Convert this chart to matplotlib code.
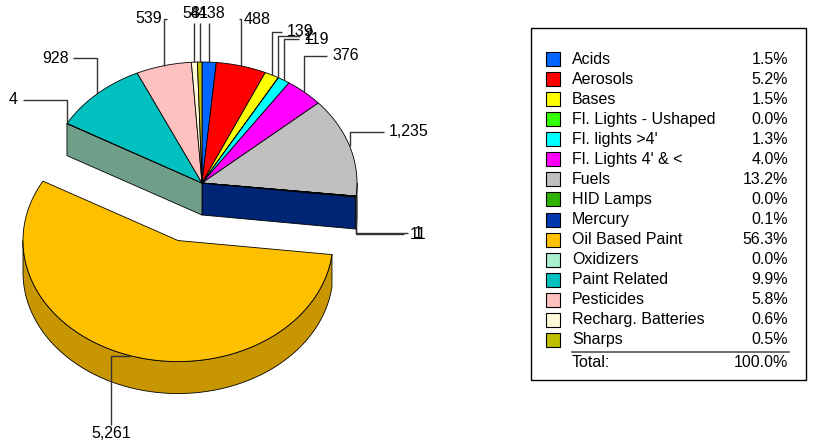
import numpy as np
import matplotlib.pyplot as plt
import matplotlib.colors as mcolors
from matplotlib.patches import Polygon, Rectangle

plt.rcParams['font.family'] = ['Liberation Sans', 'DejaVu Sans']

######################## DATA ##################################################
categories = ['Acids', 'Aerosols', 'Bases', 'Fl. Lights - Ushaped', "Fl. lights >4'",
              "Fl. Lights 4' & <", 'Fuels', 'HID Lamps', 'Mercury', 'Oil Based Paint',
              'Oxidizers', 'Paint Related', 'Pesticides', 'Recharg. Batteries', 'Sharps']
values = [138, 488, 139, 2, 119, 376, 1235, 1, 11, 5261, 4, 928, 539, 58, 44]
colors = ['#0066FF', '#FF0000', '#FFFF00', '#33FF00', '#00FFFF', '#FF00FF', '#C0C0C0',
          '#2DB300', '#0038B0', '#FFC000', '#A8F0D0', '#00C0C0', '#FFC0C0', '#FFFBD8',
          '#BFBF00']
exploded = 'Oil Based Paint'
################################################################################

fs = 11.5
cx, cy = 202, 183      # pie centre (px)
rx, ry = 155, 121      # top ellipse radii
depth = 32             # pie thickness
explode = 0.5
lab_k = 1.4            # label distance (relative to radius)
side_shade = 0.78
cut_shade = 0.66

fig = plt.figure(figsize=(8.15, 4.43), dpi=100)
ax = fig.add_axes([0, 0, 1, 1])
ax.set_xlim(0, 815)
ax.set_ylim(443, 0)
ax.axis('off')


def shade(c, f):
    return tuple(np.array(mcolors.to_rgb(c)) * f)


def rim(x0, y0, a1, a2):
    t = np.radians(np.linspace(a1, a2, max(2, int(abs(a2 - a1) * 2) + 2)))
    return np.column_stack([x0 + rx * np.sin(t), y0 - ry * np.cos(t)])


def pt(x0, y0, a, k=1.0):
    t = np.radians(a)
    return np.array([x0 + k * rx * np.sin(t), y0 - k * ry * np.cos(t)])


total = sum(values)
frac = np.array(values) / total
edges = np.concatenate([[0], np.cumsum(frac)]) * 360
n = len(values)
iex = categories.index(exploded)

centres = []
for i in range(n):
    if i == iex:
        mid = np.radians((edges[i] + edges[i + 1]) / 2)
        centres.append((cx + explode * rx * np.sin(mid), cy - explode * ry * np.cos(mid)))
    else:
        centres.append((cx, cy))

ekw = dict(ec='black', lw=0.6, joinstyle='round')


def draw_slice(i, parts):
    x0, y0 = centres[i]
    a1, a2 = edges[i], edges[i + 1]
    if 'cut' in parts:
        # radial faces next to the gap
        for a, sgn in ((a1, -1), (a2, 1)):
            if sgn * np.sin(np.radians(a)) > 0:
                p = pt(x0, y0, a)
                quad = [(x0, y0), p, p + [0, depth], (x0, y0 + depth)]
                ax.add_patch(Polygon(quad, fc=shade(colors[i], cut_shade), **ekw))
    if 'side' in parts:
        s1, s2 = max(a1, 90), min(a2, 270)
        if s2 > s1:
            top = rim(x0, y0, s1, s2)
            bot = top[::-1] + [0, depth]
            ax.add_patch(Polygon(np.vstack([top, bot]), fc=shade(colors[i], side_shade), **ekw))
    if 'top' in parts:
        arc = rim(x0, y0, a1, a2)
        ax.add_patch(Polygon(np.vstack([[x0, y0], arc]), fc=colors[i], **ekw))


main = [i for i in range(n) if i != iex]
for i in main:
    if (i + 1) % n == iex or (i - 1) % n == iex:
        draw_slice(i, ['cut'])
for i in main:
    draw_slice(i, ['side'])
for i in main:
    draw_slice(i, ['top'])
draw_slice(iex, ['cut', 'side', 'top'])

# value labels with leader lines
renderer = fig.canvas.get_renderer()
inv = ax.transData.inverted()
lc = '#333333'
for i in range(n):
    x0, y0 = centres[i]
    a = (edges[i] + edges[i + 1]) / 2
    s, c = np.sin(np.radians(a)), np.cos(np.radians(a))
    anchor = pt(x0, y0, a)
    lx, ly = pt(x0, y0, a, lab_k)
    if c < 0:
        ly += depth
    t = ax.text(lx, ly, f'{values[i]:,}', ha='center', va='center', fontsize=fs, zorder=5)
    bb = t.get_window_extent(renderer).transformed(inv)
    bx0, bx1 = sorted([bb.x0, bb.x1])
    by0, by1 = sorted([bb.y0, bb.y1])
    if c < 0 and abs(s) < 0.5:
        xs = [anchor[0], lx, lx]
        ys = [anchor[1], anchor[1], by0 - 1]
    elif bx0 <= anchor[0] <= bx1:
        xs = [anchor[0], anchor[0]]
        ys = [anchor[1], by1 + 2 if c >= 0 else by0 - 2]
    else:
        ex = bx0 - 5 if lx > anchor[0] else bx1 + 5
        xs = [anchor[0], anchor[0], ex]
        ys = [anchor[1], ly, ly]
    ax.plot(xs, ys, color=lc, lw=1, zorder=4, solid_capstyle='butt')

# legend box
ax.add_patch(Rectangle((531, 28), 275, 352, fc='white', ec='black', lw=1))
row0, dy = 59, 20.07
for k in range(n):
    y = row0 + k * dy
    ax.add_patch(Rectangle((546, y - 7), 14, 14, fc=colors[k], ec='black', lw=0.8))
    ax.text(572, y, categories[k], va='center', fontsize=fs)
    ax.text(788, y, f'{frac[k] * 100:.1f}%', ha='right', va='center', fontsize=fs)
yl = row0 + (n - 1) * dy + 12
ax.plot([572, 789], [yl, yl], color='#555555', lw=1.2)
ax.text(572, yl + 11, 'Total:', va='center', fontsize=fs)
ax.text(788, yl + 11, f'{frac.sum() * 100:.1f}%', ha='right', va='center', fontsize=fs)

fig.savefig('out.png', dpi=100)
